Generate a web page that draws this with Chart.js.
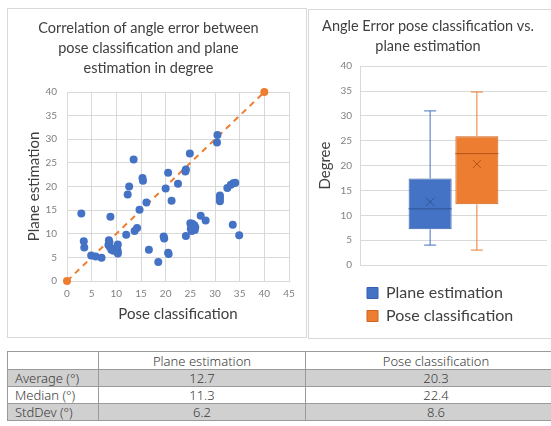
<!DOCTYPE html>
<html lang="en">
<head>
<meta charset="UTF-8">
<title>Angle error: pose classification vs. plane estimation</title>
<script src="https://cdn.jsdelivr.net/npm/chart.js@4"></script>
<style>
  html, body { margin: 0; padding: 0; background: #fff; overflow: hidden; }
  body { width: 551px; height: 426px; position: relative; font-family: Lato, "Open Sans", sans-serif; }
  .panel { position: absolute; border: 1px solid #d9d9d9; background: #fff; }
  #scatterPanel { left: 7px; top: 8px; width: 298px; height: 328px; }
  #boxPanel { left: 308px; top: 9px; width: 250px; height: 328px; }
  .panel canvas { display: block; }
  table.stats {
    position: absolute; left: 7px; top: 351px;
    border-collapse: collapse; table-layout: fixed; width: 560px;
    font-family: "Noto Sans", sans-serif; font-weight: 300; font-size: 13px; color: #3a3a3a;
  }
  table.stats td { border: 1px solid #9a9a9a; height: 16px; padding: 0; text-align: center; line-height: 16px; }
  table.stats tr.head td { height: 17px; }
  table.stats td:first-child { text-align: left; padding-left: 7px; }
  table.stats tr.grey td { background: #d0d0d0; }
</style>
</head>
<body>
  <div class="panel" id="scatterPanel"><canvas id="scatterChart" width="298" height="328"></canvas></div>
  <div class="panel" id="boxPanel"><canvas id="boxChart" width="245" height="328"></canvas></div>

  <table class="stats">
    <colgroup><col style="width:91px"><col style="width:207px"><col></colgroup>
    <tr class="head"><td></td><td>Plane estimation</td><td>Pose classification</td></tr>
    <tr class="grey"><td>Average (°)</td><td>12.7</td><td>20.3</td></tr>
    <tr><td>Median (°)</td><td>11.3</td><td>22.4</td></tr>
    <tr class="grey"><td>StdDev (°)</td><td>6.2</td><td>8.6</td></tr>
  </table>

<script>
// scatter: pose classification error (x) vs plane estimation error (y), degrees
const poseErr = [
  2.9, 3.4, 3.5, 4.9, 5.8, 7.0, 8.5, 8.6, 8.4, 8.7, 9.0, 9.4, 9.8, 10.3, 10.2, 10.3, 10.3,
  8.8, 12.0, 12.3, 12.6, 13.5, 13.7, 14.2, 14.7, 15.3, 15.4, 16.1, 16.6, 18.5, 19.6, 19.7,
  20.0, 20.5, 20.5, 20.6, 21.2, 22.5, 24.0, 24.1, 24.1, 24.9,
  25.0, 25.4, 25.8, 25.2, 25.6, 25.9, 25.3, 26.0, 25.5, 25.1,
  27.1, 28.1, 30.4, 30.5, 31.0, 31.0, 31.0, 32.5, 33.2, 33.7, 34.1, 33.6, 34.9
];
const planeErr = [
  14.3, 8.4, 7.1, 5.4, 5.2, 4.9, 8.6, 8.2, 7.6, 7.2, 6.6, 6.4, 6.9, 7.7, 6.8, 6.2, 5.8,
  13.6, 9.8, 18.3, 20.0, 25.7, 10.6, 11.2, 15.1, 21.8, 21.2, 16.6, 6.6, 4.0, 9.4, 9.0,
  19.6, 22.9, 6.0, 5.7, 17.0, 20.6, 23.2, 23.6, 9.5, 27.0,
  12.2, 12.1, 11.8, 11.4, 11.0, 10.8, 10.6, 11.4, 11.7, 11.0,
  13.8, 12.8, 29.3, 30.9, 18.1, 17.5, 16.9, 19.7, 20.4, 20.7, 20.8, 11.9, 9.7
];
// ideal line y = x
const idealX = [0, 40];
const idealY = [0, 40];

// box plot statistics
const boxSeries = ['Plane estimation', 'Pose classification'];
const boxMin = [4.0, 3.0];
const boxQ1 = [7.2, 12.2];
const boxMedian = [11.3, 22.4];
const boxQ3 = [17.4, 25.9];
const boxMax = [31.0, 34.8];
const boxMean = [12.7, 20.3];

const BLUE = '#4472c4';
const ORANGE = '#ed7d31';
const boxFill = [BLUE, ORANGE];
const boxEdge = ['#3560ad', '#c9641d'];
const boxDark = ['#2f5597', '#b25418'];

const gridColor = '#d9d9d9';
const tickColor = '#808080';
const textColor = '#404040';
const fam = 'Lato, "Open Sans", sans-serif';

new Chart(document.getElementById('scatterChart'), {
  type: 'scatter',
  data: {
    datasets: [{
      label: 'Angle error',
      data: poseErr.map((x, i) => ({ x, y: planeErr[i] })),
      backgroundColor: BLUE,
      borderColor: BLUE,
      pointRadius: 4,
      pointHoverRadius: 4,
      borderWidth: 0
    }, {
      label: 'Ideal',
      data: idealX.map((x, i) => ({ x, y: idealY[i] })),
      showLine: true,
      clip: false,
      borderColor: ORANGE,
      backgroundColor: ORANGE,
      borderWidth: 2,
      borderDash: [6, 5],
      pointRadius: 4,
      pointBorderWidth: 0
    }]
  },
  options: {
    responsive: false,
    animation: false,
    layout: { padding: { left: 0, right: 17, top: 0, bottom: 0 } },
    plugins: {
      legend: { display: false },
      tooltip: { enabled: false },
      title: {
        display: true,
        text: ['Correlation of angle error between', 'pose classification and plane', 'estimation in degree'],
        color: textColor,
        font: { family: fam, size: 14.5, weight: 'normal', lineHeight: 1.38 },
        padding: { top: 9, bottom: 14 }
      }
    },
    scales: {
      x: {
        type: 'linear', min: 0, max: 45,
        ticks: { stepSize: 5, color: tickColor, padding: 7, font: { family: fam, size: 10 } },
        grid: { color: gridColor, drawTicks: false },
        border: { color: gridColor },
        title: { display: true, text: 'Pose classification', color: textColor,
                 font: { family: fam, size: 15, lineHeight: 1.333 }, padding: { top: 0, bottom: 13 } },
        afterFit: s => { s.height = 56; }
      },
      y: {
        type: 'linear', min: 0, max: 40,
        ticks: { stepSize: 5, color: tickColor, padding: 10, font: { family: fam, size: 10 } },
        grid: { color: gridColor, drawTicks: false },
        border: { color: gridColor },
        title: { display: true, text: 'Plane estimation', color: textColor,
                 font: { family: fam, size: 15, lineHeight: 1.333 }, padding: { top: 16, bottom: 0 } },
        afterFit: s => { s.width = 59; }
      }
    }
  }
});

// whiskers, median line and mean marker, placed with the chart's own scales
const boxExtras = {
  id: 'boxExtras',
  afterDatasetsDraw(chart) {
    const ctx = chart.ctx;
    const yScale = chart.scales.y;
    chart.data.datasets.forEach((ds, i) => {
      const bar = chart.getDatasetMeta(i).data[0];
      if (!bar) return;
      const cx = bar.x;
      const half = bar.width / 2;
      const cap = bar.width * 0.14;
      const yMax = yScale.getPixelForValue(boxMax[i]);
      const yMin = yScale.getPixelForValue(boxMin[i]);
      const yQ1 = yScale.getPixelForValue(boxQ1[i]);
      const yQ3 = yScale.getPixelForValue(boxQ3[i]);
      const yMed = yScale.getPixelForValue(boxMedian[i]);
      const yMean = yScale.getPixelForValue(boxMean[i]);
      ctx.save();
      ctx.lineWidth = 1;
      ctx.strokeStyle = boxFill[i];
      ctx.beginPath();
      ctx.moveTo(cx, yQ3); ctx.lineTo(cx, yMax);
      ctx.moveTo(cx - cap, yMax); ctx.lineTo(cx + cap, yMax);
      ctx.moveTo(cx, yQ1); ctx.lineTo(cx, yMin);
      ctx.moveTo(cx - cap, yMin); ctx.lineTo(cx + cap, yMin);
      ctx.stroke();
      ctx.strokeStyle = boxDark[i];
      ctx.beginPath();
      ctx.moveTo(cx - half, yMed); ctx.lineTo(cx + half, yMed);
      ctx.moveTo(cx - 4, yMean - 4); ctx.lineTo(cx + 4, yMean + 4);
      ctx.moveTo(cx - 4, yMean + 4); ctx.lineTo(cx + 4, yMean - 4);
      ctx.stroke();
      ctx.restore();
    });
  }
};

new Chart(document.getElementById('boxChart'), {
  type: 'bar',
  data: {
    labels: [''],
    datasets: boxSeries.map((name, i) => ({
      label: name,
      data: [[boxQ1[i], boxQ3[i]]],
      backgroundColor: boxFill[i],
      borderColor: boxEdge[i],
      borderWidth: 1,
      borderSkipped: false,
      categoryPercentage: 0.5,
      barPercentage: 0.92
    }))
  },
  plugins: [boxExtras],
  options: {
    responsive: false,
    animation: false,
    layout: { padding: { left: 0, right: 7, top: 0, bottom: 4 } },
    plugins: {
      tooltip: { enabled: false },
      title: {
        display: true,
        text: ['Angle Error pose classification vs.', 'plane estimation'],
        color: textColor,
        font: { family: fam, size: 14.5, weight: 'normal', lineHeight: 1.35 },
        padding: { top: 7, bottom: 10 }
      },
      legend: {
        position: 'bottom',
        align: 'start',
        fullSize: false,
        labels: {
          boxWidth: 11, boxHeight: 11, padding: 7, color: textColor,
          font: { family: fam, size: 16 }
        }
      }
    },
    scales: {
      x: {
        ticks: { display: false },
        grid: { display: false },
        border: { display: false },
        afterFit: s => { s.height = 13; }
      },
      y: {
        min: 0, max: 40,
        ticks: { stepSize: 5, color: tickColor, padding: 8, font: { family: fam, size: 10 } },
        grid: { color: gridColor, drawTicks: false },
        border: { color: gridColor },
        title: { display: true, text: 'Degree', color: textColor,
                 font: { family: fam, size: 15, lineHeight: 1.333 }, padding: { top: 6, bottom: 0 } },
        afterFit: s => { s.width = 51; }
      }
    }
  }
});
</script>
</body>
</html>
